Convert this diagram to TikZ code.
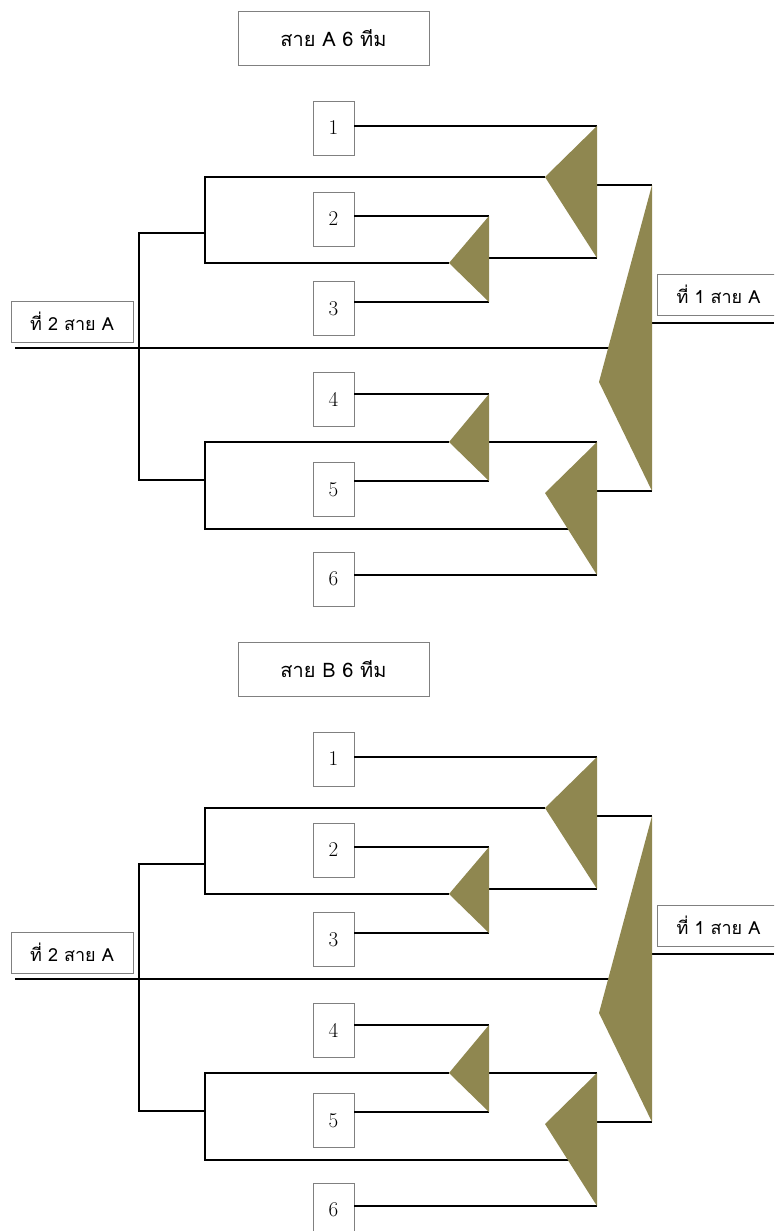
\documentclass[tikz,border=0pt]{standalone}
\usepackage{fontspec}
\newfontfamily\thaifont[Script=Thai]{Loma}
\usetikzlibrary{calc}
\definecolor{oliva}{RGB}{143,135,80}
\definecolor{bordo}{RGB}{128,128,128}
\tikzset{
    squadra/.style = {draw = bordo, line width = 0.8pt, minimum width = 41pt, minimum height = 54pt, inner sep = 0pt, font = \fontsize{21}{21}\selectfont},
    etichetta/.style = {draw = bordo, line width = 0.8pt, inner sep = 0pt, font = \thaifont\fontsize{18}{18}\selectfont},
    linea/.style = {line width = 1.7pt},
    coppa/.style = {fill = oliva}
}

\begin{document}
\begin{tikzpicture}[x = 1pt, y = -1pt]
    % Bordi
    \useasboundingbox (0,0) rectangle (774,1231);
    \clip (0,0) rectangle (774,1231);
    \foreach \sez/\titolo/\dy in {a/สาย A 6 ทีม/0, b/สาย B 6 ทีม/631}{
    \begin{scope}[shift = {(0,\dy)}]
        % Caselle
        \node[etichetta, minimum width = 191pt, minimum height = 54pt, font = \thaifont\fontsize{20}{20}\selectfont] (\sez-titolo) at (333.5,38) {\titolo};
        \foreach \n/\y in {1/128, 2/219, 3/308.5, 4/399, 5/489.5, 6/579}{
            \node[squadra] (\sez\n) at (333.5,\y) {\n};
        }
        \node[etichetta, minimum width = 122pt, minimum height = 41pt] (\sez-secondo) at (72,321.5) {ที่ 2 สาย A};
        \node[etichetta, minimum width = 123pt, minimum height = 41pt] (\sez-primo) at (718.5,294.5) {ที่ 1 สาย A};
        % Vertici delle coppe
        \coordinate (\sez-t1a) at (597,126);
        \coordinate (\sez-t1b) at (597,258);
        \coordinate (\sez-t1c) at (545,177);
        \coordinate (\sez-t2a) at (489,216);
        \coordinate (\sez-t2b) at (489,302);
        \coordinate (\sez-t2c) at (449,263);
        \coordinate (\sez-t3a) at (652,185);
        \coordinate (\sez-t3b) at (652,491);
        \coordinate (\sez-t3c) at (599,382);
        \coordinate (\sez-t4a) at (489,394);
        \coordinate (\sez-t4b) at (489,481);
        \coordinate (\sez-t4c) at (449,442);
        \coordinate (\sez-t5a) at (597,442);
        \coordinate (\sez-t5b) at (597,575);
        \coordinate (\sez-t5c) at (545,493);
        % Snodi
        \coordinate (\sez-g0) at (139,348);
        \coordinate (\sez-g1) at (205,233);
        \coordinate (\sez-g2) at (205,480);
        \coordinate (\sez-inizio) at (15,348);
        \coordinate (\sez-e1) at (620,348);
        \coordinate (\sez-e2) at (580,529);
        \coordinate (\sez-fine) at (774,323);
        % Linee
        \draw[linea] (\sez1.east |- \sez-t1a) -- (\sez-t1a);
        \draw[linea] (\sez2.east |- \sez-t2a) -- (\sez-t2a);
        \draw[linea] (\sez3.east |- \sez-t2b) -- (\sez-t2b);
        \draw[linea] (\sez4.east |- \sez-t4a) -- (\sez-t4a);
        \draw[linea] (\sez5.east |- \sez-t4b) -- (\sez-t4b);
        \draw[linea] (\sez6.east |- \sez-t5b) -- (\sez-t5b);
        \draw[linea] (\sez-t2a |- \sez-t1b) -- (\sez-t1b);
        \draw[linea] (\sez-t1a |- \sez-t3a) -- (\sez-t3a);
        \draw[linea] (\sez-t4a |- \sez-t5a) -- (\sez-t5a);
        \draw[linea] (\sez-t5a |- \sez-t3b) -- (\sez-t3b);
        \draw[linea] (\sez-t3a |- \sez-fine) -- (\sez-fine);
        \draw[linea] (\sez-t1c) -| (\sez-g1) |- (\sez-t2c);
        \draw[linea] (\sez-t4c) -| (\sez-g2) |- (\sez-e2);
        \draw[linea] (\sez-g1) -| (\sez-g0) |- (\sez-g2);
        \draw[linea] (\sez-inizio) -- (\sez-e1);
        % Coppe
        \foreach \t in {1,...,5}{
            \fill[coppa] (\sez-t\t a) -- (\sez-t\t b) -- (\sez-t\t c) -- cycle;
        }
    \end{scope}
    }
\end{tikzpicture}
\end{document}
